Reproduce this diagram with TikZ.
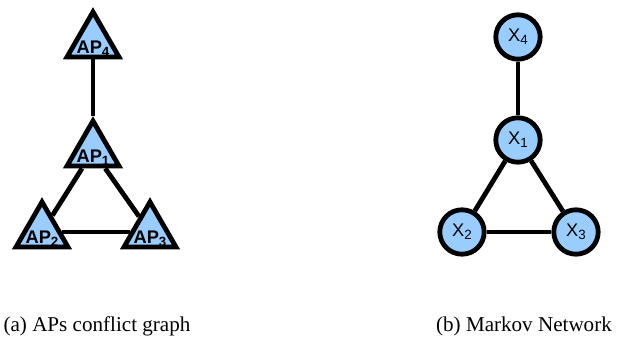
\documentclass[tikz,border=0pt]{standalone}
\usepackage{fontspec}
\setmainfont{Liberation Serif}
\newfontfamily\labelfont{Liberation Sans}
\usetikzlibrary{shapes.geometric}
\definecolor{nodeblue}{RGB}{153,204,255}
\newcommand{\idx}[1]{\raisebox{-0.3ex}{\fontsize{9.5}{9.5}\selectfont #1}}
\tikzstyle{ap} = [regular polygon, regular polygon sides=3, minimum size=1.5cm, inner sep=0pt, draw=black, fill=nodeblue, line width=0.12cm, label={[font=\labelfont\bfseries\fontsize{13}{13}\selectfont, yshift=-0.17cm]center:#1}]
\tikzstyle{var} = [circle, minimum size=1.11cm, inner sep=0pt, draw=black, fill=nodeblue, line width=0.12cm, font=\labelfont\fontsize{13}{13}\selectfont]
\tikzstyle{edge} = [line width=0.12cm]
\tikzstyle{caption} = [font=\fontsize{15}{17}\selectfont, inner sep=0pt, anchor=base]

\begin{document}
\begin{tikzpicture}[x=0.025cm, y=-0.025cm]
\useasboundingbox (0,0) rectangle (633,339);

% conflict graph
\node (ap4) [ap=AP\idx{4}] at (93,42) {};
\node (ap1) [ap=AP\idx{1}] at (93,151) {};
\node (ap2) [ap=AP\idx{2}] at (42,232) {};
\node (ap3) [ap=AP\idx{3}] at (150,232) {};

\draw [edge] (ap4) -- (ap1);
\draw [edge] (ap1) -- (ap2);
\draw [edge] (ap1) -- (ap3);
\draw [edge] (ap2) -- (ap3);

% markov network
\node (x4) [var] at (518,37) {X\idx{4}};
\node (x1) [var] at (518,140) {X\idx{1}};
\node (x2) [var] at (462,232) {X\idx{2}};
\node (x3) [var] at (576,232) {X\idx{3}};

\draw [edge] (x4) -- (x1);
\draw [edge] (x1) -- (x2);
\draw [edge] (x1) -- (x3);
\draw [edge] (x2) -- (x3);

\node (capa) [caption] at (97,332) {(a) APs conflict graph};
\node (capb) [caption] at (524,332) {(b) Markov Network};

\end{tikzpicture}
\end{document}
